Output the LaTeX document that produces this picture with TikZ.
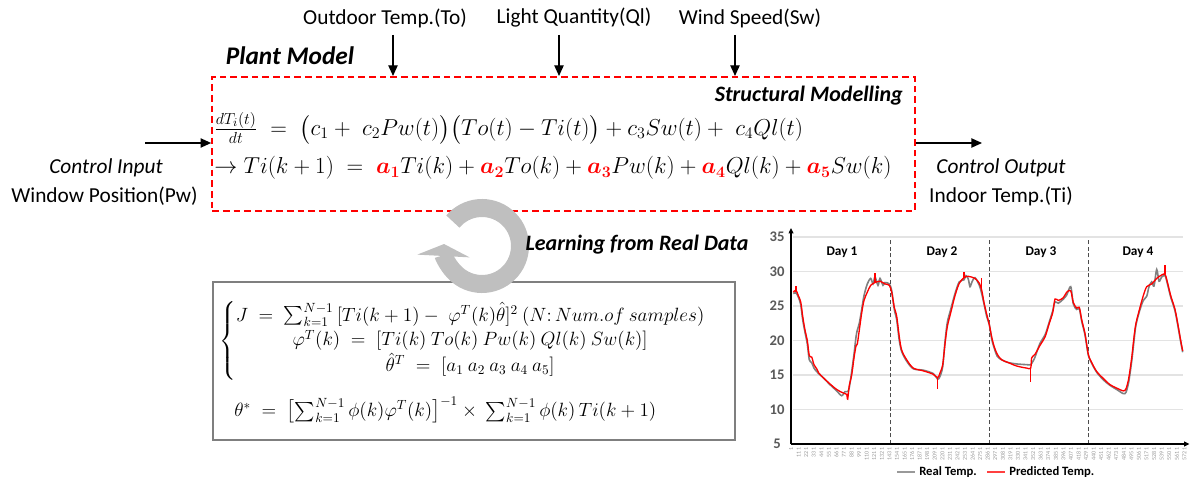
\documentclass[tikz,border=0pt]{standalone}
\usepackage{amsmath,amssymb}
\usepackage{fontspec}
\setmainfont{Carlito}
\usepackage{xcolor}
\usepackage{tikz}
\usetikzlibrary{arrows.meta,positioning,calc}

\definecolor{ringgray}{HTML}{BFBFBF}
\definecolor{framegray}{HTML}{7F7F7F}
\definecolor{axisgray}{HTML}{595959}

\begin{document}
\begin{tikzpicture}[x=0.75pt, y=-0.75pt,
    modelbox/.style={rectangle, draw=red, line width=1.5pt,
                     dash pattern=on 5pt off 3pt, minimum width=527pt,
                     minimum height=100.5pt, inner sep=0pt},
    lsqbox/.style={rectangle, draw=framegray, line width=1.2pt,
                   minimum width=391.5pt, minimum height=118.5pt, inner sep=0pt},
    arrow/.style={-{Triangle[length=8pt, width=7pt]}, line width=1pt},
    signal/.style={font=\fontsize{16}{19}\selectfont, inner sep=0pt},
    heading/.style={font=\fontsize{16.5}{19}\selectfont\bfseries\itshape, inner sep=0pt},
    eqn/.style={font=\fontsize{17}{20}\selectfont, anchor=west, inner sep=0pt},
    ring/.style={draw=ringgray, line width=13.5pt, -{Triangle[length=9pt, width=39pt]}},
    grid/.style={draw=gray!22, line width=0.8pt},
    daysep/.style={draw=black!70, line width=0.6pt, densely dashed},
    axisline/.style={draw=black, line width=1.1pt, -{Triangle[length=4pt, width=3.5pt]}},
    axisnum/.style={font=\fontsize{11}{13}\selectfont\bfseries, text=axisgray},
    ticknum/.style={font=\fontsize{4.5}{5}\selectfont, text=gray!80, rotate=90, anchor=east, inner sep=0.5pt},
    daylabel/.style={font=\fontsize{10}{12}\selectfont\bfseries},
    legend/.style={font=\fontsize{9.5}{11}\selectfont\bfseries, anchor=west, inner sep=0pt},
    realline/.style={draw=gray, line width=1.2pt},
    predline/.style={draw=red, line width=1pt}
]
    \useasboundingbox (0,0) rectangle (1190,485);

    % Disturbance inputs
    \node[signal] (tout) at (385,18) {Outdoor Temp.(To)};
    \node[signal] (ql)   at (574,18) {Light Quantity(Ql)};
    \node[signal] (sw)   at (750,18) {Wind Speed(Sw)};
    \coordinate (toin) at (393,35);
    \coordinate (qlin) at (559,35);
    \coordinate (swin) at (735,35);

    \node[heading, font=\fontsize{19}{22}\selectfont\bfseries\itshape] (plant) at (290,56) {Plant Model};
    \node[modelbox] (model) at (563.5,144) {};
    \node[heading, anchor=east] (struct) at (903,96) {Structural Modelling};
    \node[eqn, font=\fontsize{18}{21}\selectfont] (ode) at (214,128)
        {$\frac{dT_i(t)}{dt} \;=\; \bigl(c_1 +\; c_2Pw(t)\bigr)\bigl(To(t)-Ti(t)\bigr) + c_3Sw(t) +\; c_4Ql(t)$};
    \node[eqn] (arx) at (214,168)
        {$\rightarrow Ti(k+1) \;=\; \textcolor{red}{\boldsymbol{a_1}}Ti(k) + \textcolor{red}{\boldsymbol{a_2}}To(k) + \textcolor{red}{\boldsymbol{a_3}}Pw(k) + \textcolor{red}{\boldsymbol{a_4}}Ql(k) + \textcolor{red}{\boldsymbol{a_5}}Sw(k)$};

    \node[signal, font=\fontsize{16}{19}\selectfont\itshape] (cin) at (106,168) {Control Input};
    \node[signal] (pw) at (104.5,196) {Window Position(Pw)};
    \node[signal, font=\fontsize{16}{19}\selectfont\itshape] (cout) at (1001,168) {Control Output};
    \node[signal] (ti) at (1001,196) {Indoor Temp.(Ti)};
    \coordinate (pwin) at (145,143);
    \coordinate (tiout) at (982,143);

    \draw[arrow] (toin) -- (toin |- model.north);
    \draw[arrow] (qlin) -- (qlin |- model.north);
    \draw[arrow] (swin) -- (swin |- model.north);
    \draw[arrow] (pwin) -- (pwin -| model.west);
    \draw[arrow] (tiout -| model.east) -- (tiout);

    % Least squares identification
    \node[lsqbox] (lsq) at (474,361) {};
    \node[eqn, font=\fontsize{14}{17}\selectfont] (cost) at (219,341)
        {$\renewcommand{\arraystretch}{1.1}\left\{\begin{array}{@{}c@{}}
            J \;=\; \sum_{k=1}^{N-1}\,[Ti(k+1) -\; \varphi^T(k)\hat{\theta}]^2\ (N{:}\,Num.of\ samples)\\
            \varphi^T(k) \;=\; [Ti(k)\ To(k)\ Pw(k)\ Ql(k)\ Sw(k)]\\
            \hat{\theta}^T \;=\; [a_1\ a_2\ a_3\ a_4\ a_5]
          \end{array}\right.$};
    \node[eqn, font=\fontsize{14.5}{17}\selectfont] (opt) at (234,410)
        {$\theta^* \;=\; \bigl[\sum_{k=1}^{N-1}\phi(k)\varphi^T(k)\bigr]^{-1}\times\ \sum_{k=1}^{N-1}\phi(k)\,Ti(k+1)$};

    \coordinate (loop) at (482,246);
    \draw[ring] ($(loop)+(-140:38)$) arc[start angle=-140, end angle=183, radius=38];
    \node[heading] (learn) at (637,245) {Learning from Real Data};

    % Measured vs predicted indoor temperature
    \begin{scope}[shift={(0,478.5)}, y=5.175pt]
        \foreach \v in {10,15,...,35}
            \draw[grid] (793,\v) -- (1183,\v);
        \foreach \v in {5,10,...,35}
            \node[axisnum] at (777,\v) {\v};
        \foreach \d in {890,989,1088}
            \draw[daysep] (\d,5) -- (\d,34.9);
        \node[daylabel] (day1) at (842,32.8) {Day 1};
        \node[daylabel] (day2) at (942,32.8) {Day 2};
        \node[daylabel] (day3) at (1041,32.8) {Day 3};
        \node[daylabel] (day4) at (1138,32.8) {Day 4};

        \draw[realline] plot[smooth] coordinates {
            (793.3,26.8) (796,26.9) (798.3,26.3) (800.7,25.2) (802.7,23) (805,21.2)
            (807.3,19.5) (809.3,17.2) (811.7,16.8) (814,16.0) (816.7,15.5) (818.7,15.2)
            (823.3,14.6) (830,13.6) (836.7,12.7) (841.7,12.0) (845,12.6) (847.7,12.6)
            (849.3,13.2) (851.7,15.5) (854,18) (856,20.5) (857.3,21.5) (859.3,22.5)
            (861.7,24.5) (864,26.5) (867.3,28.2) (870.7,29.0) (873,28.2) (875,29.2)
            (878,28.0) (880,29.0) (883,28.0) (885,28.4) (889.3,28.2)
            (891.7,27.2) (894.3,24.5) (896.7,23) (899.3,20.0) (901.7,18.4) (906.7,17.0)
            (913.3,15.9) (923.3,15.7) (933.3,15.2) (937.7,14.4) (940,14.8) (942.7,16.2)
            (945,19.8) (947.3,22.6) (950.7,24.5) (955,26.8) (959.3,28.5) (964,28.8)
            (966,29.4) (968.3,28.9) (970,27.8) (972,28.5) (975,29.1) (979.3,28.0)
            (981.7,26.8) (984,25.3) (986.7,23.5) (989.3,22.3)
            (991.7,20.2) (994,19.0) (997.3,17.7) (1001.7,17.2) (1008.3,16.8) (1016.7,16.6)
            (1026.7,16.5) (1030.7,16.5) (1033,17.0) (1035,17.6) (1040,19.6) (1045,20.8)
            (1049.3,22.7) (1052.7,24.3) (1055,25.6) (1058.3,25.4) (1063.3,26.0) (1066.7,26.6)
            (1070.7,27.8) (1073.3,25.3) (1076.7,24.5) (1079.3,24.6) (1081.7,22.8) (1085,20.8)
            (1088.3,17.9)
            (1091.7,16.7) (1096.7,15.4) (1103.3,14.3) (1110,13.5) (1116.7,12.9) (1123.3,12.3)
            (1126,12.5) (1128.7,14) (1131.7,17) (1134,20) (1136,22.3) (1140,24.5)
            (1143.3,25.8) (1146.7,26.4) (1149,27.8) (1151.7,28.5) (1154,27.9) (1156.7,30.3)
            (1159,28.6) (1161.7,29.2) (1165,29.4) (1167.3,28.3) (1170.7,26.3) (1175,24.3)
            (1178.3,21.8) (1180.7,19.8) (1182.7,18.3)};
        \draw[predline] plot[smooth] coordinates {
            (793.3,27) (796,27.3) (798.3,26.5) (800.7,25.6) (802.7,23.5) (805,21.5)
            (807.3,20.0) (809.3,17.8) (811.7,17.6) (814,16.5) (816.7,15.9) (818.7,15.3)
            (823.3,14.6) (830,13.7) (836.7,12.9) (841.7,12.5) (845,12.3) (846.7,12.2)
            (847.7,11.5) (849.3,13.5) (851.7,15) (854,17.5) (856,19.2) (857.3,19.5)
            (859.3,21.5) (861.7,24) (864,25.8) (867.3,27) (870.7,28) (875,28.4)
            (880,28.6) (885,28.2) (889.3,28.0)
            (891.7,27) (894.3,24.8) (896.7,23.5) (899.3,20.5) (901.7,18.6) (906.7,17.2)
            (913.3,16.0) (923.3,15.6) (933.3,15.1) (937.7,14.6) (940,15.3) (942.7,16.5)
            (945,19.5) (947.3,22) (950.7,24) (955,26.5) (959.3,28.3) (964,29.1)
            (968.3,29.3) (975,29.0) (979.3,28.3) (981.7,27.3) (984,25.5) (986.7,23.8)
            (989.3,22.3)
            (991.7,20.5) (994,19.2) (997.3,18) (1001.7,17.2) (1008.3,16.8) (1016.7,16.3)
            (1026.7,16.0) (1030.7,16.0) (1031.7,17.5) (1035,18) (1040,19.3) (1045,20.5)
            (1049.3,22.5) (1052.7,24) (1055,26) (1058.3,25.8) (1063.3,26.2) (1066.7,27)
            (1070.7,27.2) (1073.3,25.5) (1076.7,24.7) (1079.3,24.8) (1081.7,23) (1085,21)
            (1088.3,18)
            (1091.7,16.8) (1096.7,15.5) (1103.3,14.5) (1110,13.6) (1116.7,13.1) (1123.3,12.7)
            (1126,13.0) (1128.7,14.5) (1131.7,17.5) (1134,20.5) (1136,22.5) (1140,24.8)
            (1143.3,26.5) (1146.7,27.8) (1151.7,28.2) (1156.7,29.0) (1161.7,29.5) (1165,29.6)
            (1167.3,28.5) (1170.7,26.5) (1175,24.5) (1178.3,22) (1180.7,20) (1182.7,18.5)};
        \draw[predline] (796,27.0) -- (796,27.9);
        \draw[predline] (875,28.4) -- (875,29.8);
        \draw[predline] (937.7,14.6) -- (937.7,13.0);
        \draw[predline] (964,29.1) -- (964,30.0);
        \draw[predline] (981.7,27.3) -- (981.7,29.0);
        \draw[predline] (1030.7,16.0) -- (1030.7,14.0);
        \draw[predline] (1165,29.6) -- (1165,31.0);

        \draw[axisline] (791,5) -- (791,36.3);
        \draw[axisline] (791,5) -- (1189.5,5);
    \end{scope}
    \foreach \n in {1,111,...,5721}
        \node[ticknum] at ({791+\n*0.06875},447) {\n};

    \draw[draw=gray!80, line width=2pt] (897,472) -- (915,472);
    \node[legend] (lgreal) at (919,472) {Real Temp.};
    \draw[draw=red!75, line width=2pt] (987,472) -- (1005,472);
    \node[legend] (lgpred) at (1009,472) {Predicted Temp.};
\end{tikzpicture}
\end{document}
